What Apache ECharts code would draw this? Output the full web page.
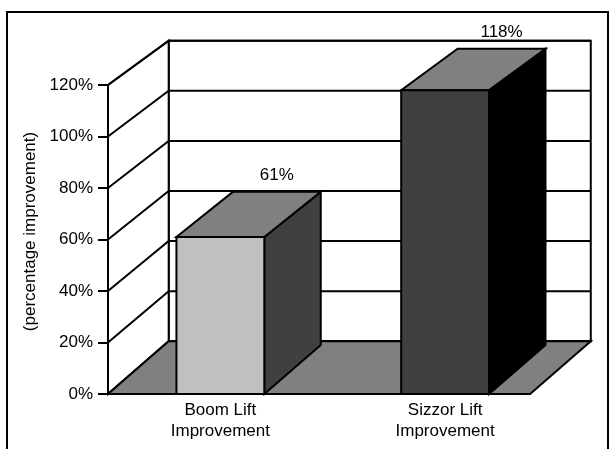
<!DOCTYPE html>
<html><head><meta charset="utf-8">
<script src="https://cdn.jsdelivr.net/npm/echarts@6/dist/echarts.min.js"></script>
<style>html,body{margin:0;padding:0;background:#fff}#c{width:616px;height:449px}</style>
</head><body><div id="c"></div>
<script>
const categories = ['Boom Lift\nImprovement', 'Sizzor Lift\nImprovement'];
const values = [61, 118];
const yTicks = [0, 20, 40, 60, 80, 100, 120];
const yAxisTitle = '(percentage improvement)';

const frontColors = ['#c0c0c0', '#404040'];
const topColors = ['#808080', '#808080'];
const sideColors = ['#404040', '#000000'];

const FONT = '"Liberation Sans", Arial, sans-serif';
const FS = 17;
const DEPTH_X = 0.27;
const DEPTH_Y_BOTTOM = 0.1706;
const DEPTH_Y_TOP = 0.1434;
const FLOOR_LEFT = -0.5, FLOOR_RIGHT = 1.378;
const BAR_W = 0.391, BAR_DEPTH = 0.93;
const yMax = yTicks[yTicks.length - 1];

function projector(params, api) {
  const c0 = api.coord([0, 0]);
  const band = api.size([1, 0])[0];
  const h = params.coordSys.height;
  return function (u, v, z) {
    const y = api.coord([0, v])[1];
    const f = v / yMax;
    const dy = -(DEPTH_Y_BOTTOM + (DEPTH_Y_TOP - DEPTH_Y_BOTTOM) * f) * h;
    return [c0[0] + u * band + z * DEPTH_X * band, y + z * dy];
  };
}

function renderWalls(params, api) {
  const P = projector(params, api);
  const L = FLOOR_LEFT, R = FLOOR_RIGHT;
  const ln = { fill: null, stroke: '#000', lineWidth: 2 };
  const children = [];
  children.push({ type: 'polygon', shape: { points: [P(L, 0, 1), P(R, 0, 1), P(R, yMax, 1), P(L, yMax, 1)] },
    style: { fill: '#fff', stroke: '#000', lineWidth: 2 } });
  children.push({ type: 'polygon', shape: { points: [P(L, 0, 0), P(L, 0, 1), P(L, yMax, 1), P(L, yMax, 0)] },
    style: { fill: '#fff', stroke: '#000', lineWidth: 2 } });
  yTicks.forEach(function (t) {
    children.push({ type: 'polyline', shape: { points: [P(L, t, 0), P(L, t, 1), P(R, t, 1)] }, style: ln });
  });
  children.push({ type: 'polygon', shape: { points: [P(L, 0, 0), P(R, 0, 0), P(R, 0, 1), P(L, 0, 1)] },
    style: { fill: '#808080', stroke: '#000', lineWidth: 2 } });
  return { type: 'group', children: children };
}

function renderBar(params, api) {
  const P = projector(params, api);
  const i = api.value(0), v = api.value(1);
  const u0 = i - BAR_W / 2, u1 = i + BAR_W / 2, zb = BAR_DEPTH;
  const st = function (fill) { return { fill: fill, stroke: '#000', lineWidth: 2 }; };
  const topMid = P(i, v, zb);
  return { type: 'group', children: [
    { type: 'polygon', shape: { points: [P(u1, 0, 0), P(u1, 0, zb), P(u1, v, zb), P(u1, v, 0)] }, style: st(sideColors[i]) },
    { type: 'polygon', shape: { points: [P(u0, v, 0), P(u1, v, 0), P(u1, v, zb), P(u0, v, zb)] }, style: st(topColors[i]) },
    { type: 'polygon', shape: { points: [P(u0, 0, 0), P(u1, 0, 0), P(u1, v, 0), P(u0, v, 0)] }, style: st(frontColors[i]) },
    { type: 'text', style: { text: v + '%', x: topMid[0], y: topMid[1] - 8, align: 'center', verticalAlign: 'bottom',
      fontSize: FS, fontFamily: FONT, fill: '#000' } }
  ] };
}

const chart = echarts.init(document.getElementById('c'), null, { renderer: 'canvas' });
chart.setOption({
  animation: false,
  backgroundColor: '#fff',
  graphic: [{
    type: 'polyline', z: 100,
    shape: { points: [[7, 460], [7, 12], [608, 12], [608, 460]] },
    style: { fill: null, stroke: '#000', lineWidth: 2 }
  }],
  grid: { left: 108, right: 58.5, top: 85, bottom: 55, containLabel: false, outerBoundsMode: 'none' },
  xAxis: {
    type: 'category', data: categories, boundaryGap: true,
    axisLine: { show: false }, axisTick: { show: false },
    axisLabel: { color: '#000', fontSize: FS, lineHeight: 21, fontFamily: FONT, margin: 6, interval: 0 }
  },
  yAxis: {
    type: 'value', min: 0, max: yMax, interval: 20,
    name: yAxisTitle, nameLocation: 'middle', nameRotate: 90, nameGap: 56,
    nameTextStyle: { color: '#000', fontSize: FS, fontFamily: FONT, padding: [0, 0, 0, 16] },
    axisLine: { show: true, lineStyle: { color: '#000', width: 2 } },
    axisTick: { show: true, length: 10, lineStyle: { color: '#000', width: 2 } },
    axisLabel: { color: '#000', fontSize: FS, fontFamily: FONT, margin: 15, formatter: '{value}%' },
    splitLine: { show: false }
  },
  series: [
    { type: 'custom', name: 'walls', z: 1, clip: false, renderItem: renderWalls, data: [[0, 0]], silent: true },
    { type: 'custom', name: 'improvement', z: 3, clip: false, renderItem: renderBar,
      data: values.map(function (v, i) { return [i, v]; }) }
  ]
});
</script></body></html>
